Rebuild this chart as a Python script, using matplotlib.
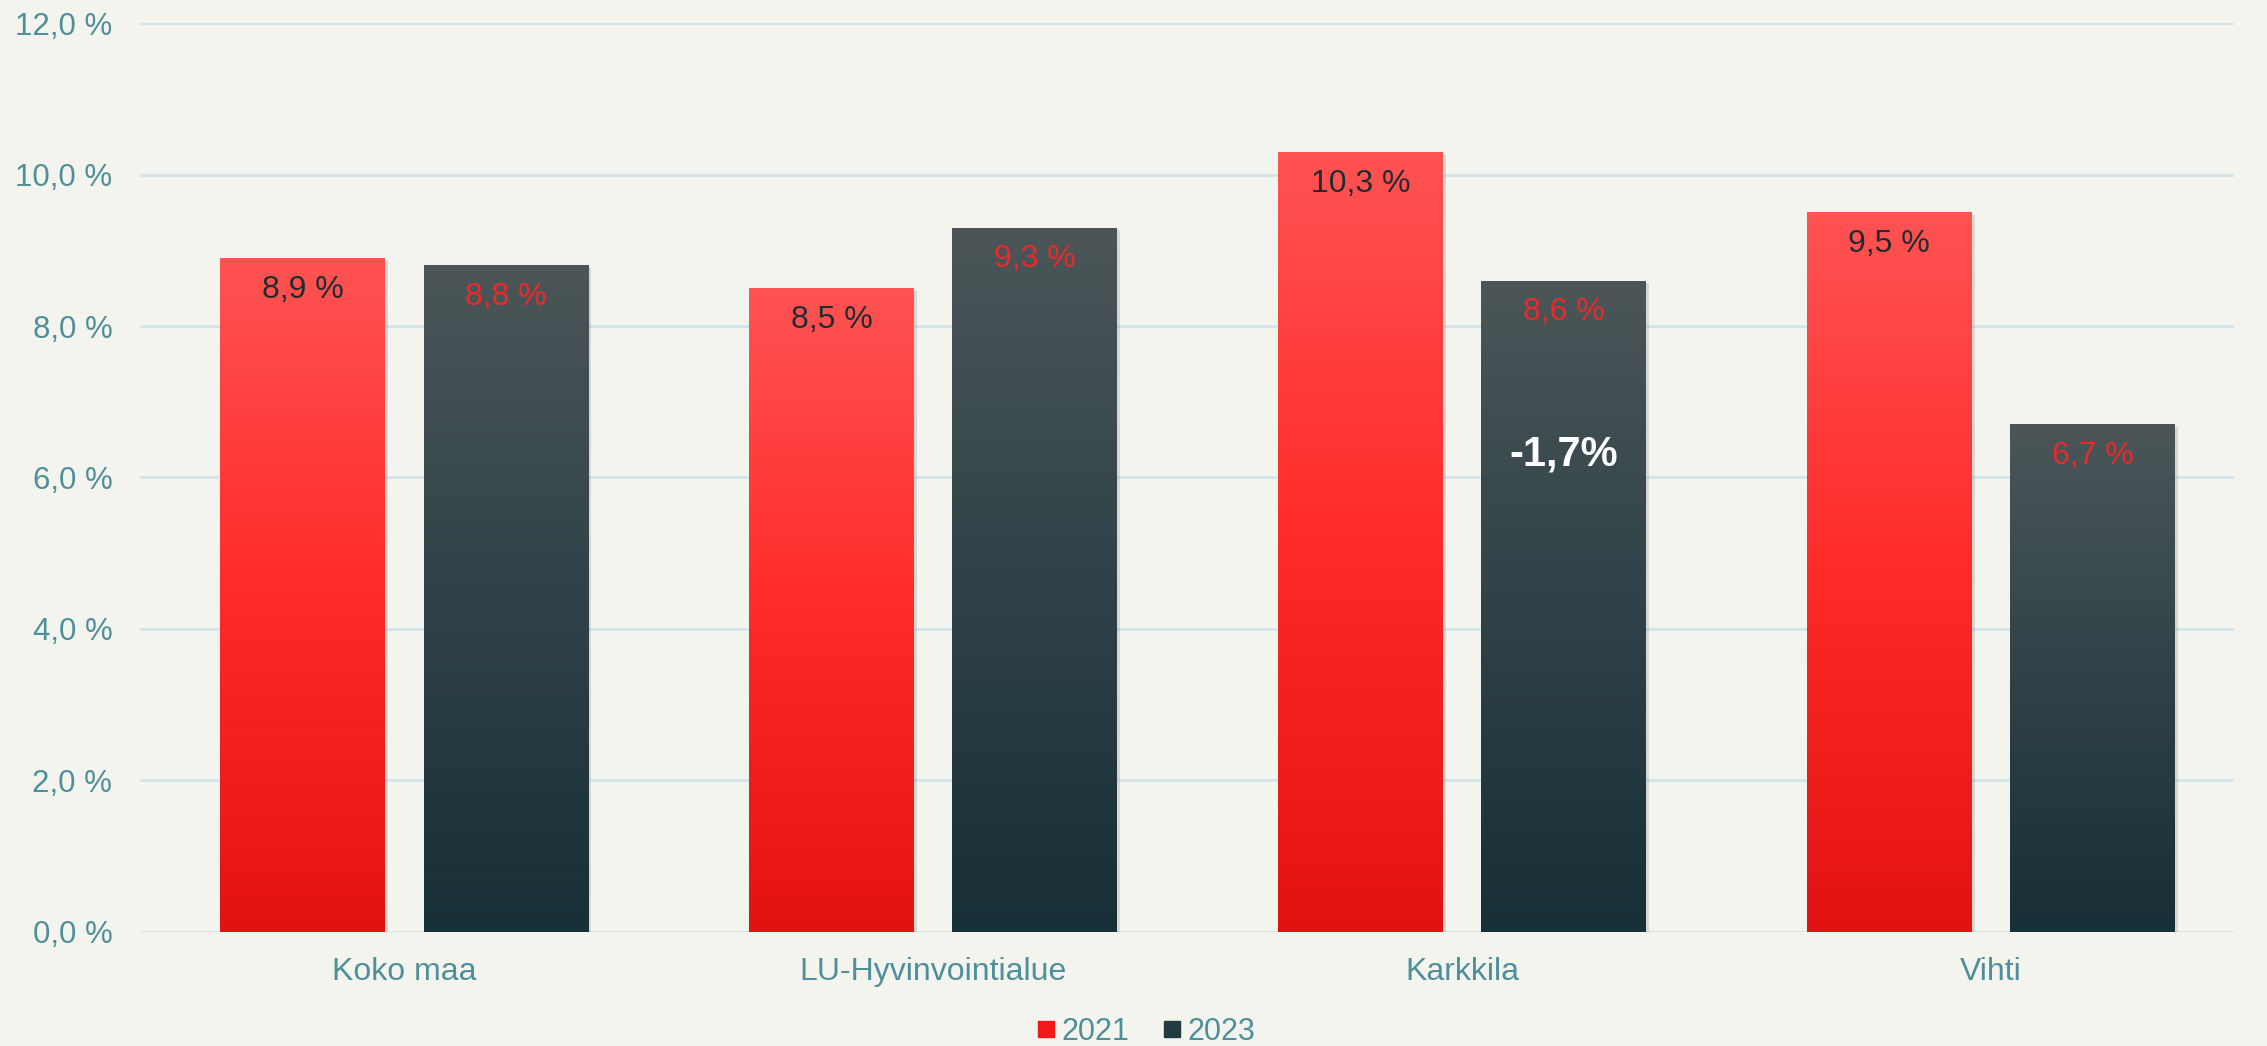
import matplotlib.pyplot as plt
import numpy as np
from matplotlib.colors import LinearSegmentedColormap
from matplotlib.lines import Line2D
import matplotlib.patheffects as pe

categories = ['Koko maa', 'LU-Hyvinvointialue', 'Karkkila', 'Vihti']
years = ['2021', '2023']
v2021 = [8.9, 8.5, 10.3, 9.5]
v2023 = [8.8, 9.3, 8.6, 6.7]
yticks = [0, 2, 4, 6, 8, 10, 12]
note_text = '-1,7%'
note_cat = 2
note_y = 6.3

plt.rcParams['font.family'] = ['Liberation Sans', 'DejaVu Sans']
bg = '#f4f4ef'
teal = '#4f8f99'
dark_txt = '#1f2d30'
red_txt = '#ea2a2a'

red_cmap = LinearSegmentedColormap.from_list('r', ['#e31212', '#ff2a2a', '#ff5353'])
dark_cmap = LinearSegmentedColormap.from_list('d', ['#172f36', '#2f4248', '#4c5658'])

fig = plt.figure(figsize=(22.67, 10.46), dpi=100, facecolor=bg)
ax = fig.add_axes([0.0618, 0.109, 0.9237, 0.869], facecolor=bg)

x = np.arange(len(categories))
w = 0.312
off = 0.192
grad = np.linspace(0, 1, 256).reshape(-1, 1)

def gradient_bars(xs, vals, cmap, txtcol):
    bars = ax.bar(xs, vals, w, color=cmap(0.0), zorder=2,
                  path_effects=[pe.SimplePatchShadow(offset=(2, -2), alpha=0.18, shadow_rgbFace='#555555'),
                                pe.Normal()])
    for b, v in zip(bars, vals):
        x0 = b.get_x()
        im = ax.imshow(grad, cmap=cmap, origin='lower', aspect='auto',
                       extent=[x0, x0 + w, 0, v], zorder=3)
        im.set_clip_path(b)
        ax.annotate(f'{v:.1f} %'.replace('.', ','), (x0 + w / 2, v),
                    xytext=(0, -23), textcoords='offset points',
                    ha='center', va='center', fontsize=23, color=txtcol, zorder=5)

gradient_bars(x - off, v2021, red_cmap, dark_txt)
gradient_bars(x + off, v2023, dark_cmap, red_txt)

ax.text(x[note_cat] + off, note_y, note_text, ha='center', va='center',
        fontsize=30, fontweight='bold', color='white', zorder=6)

ax.set_xlim(-0.5, 3.46)
ax.set_ylim(0, 12)
ax.set_yticks(yticks)
ax.set_yticklabels([f'{t:.1f} %'.replace('.', ',') for t in yticks])
ax.set_xticks(x)
ax.set_xticklabels(categories)
ax.tick_params(axis='y', length=0, pad=20, labelsize=22.5, labelcolor=teal)
ax.tick_params(axis='x', length=0, pad=18, labelsize=23, labelcolor=teal)
ax.yaxis.grid(True, color='#d3e4ea', linewidth=2, zorder=0)
ax.set_axisbelow(True)
for s in ax.spines.values():
    s.set_visible(False)

handles = [Line2D([], [], marker='s', linestyle='none', markersize=12, color='#f01a1a'),
           Line2D([], [], marker='s', linestyle='none', markersize=12, color='#233a40')]
fig.legend(handles, years, loc='lower center', bbox_to_anchor=(0.505, -0.027), ncol=2,
           frameon=False, fontsize=22, labelcolor=teal, handletextpad=0.1,
           columnspacing=1.0, handlelength=0.8)

plt.savefig('out.png', dpi=100, facecolor=bg)
